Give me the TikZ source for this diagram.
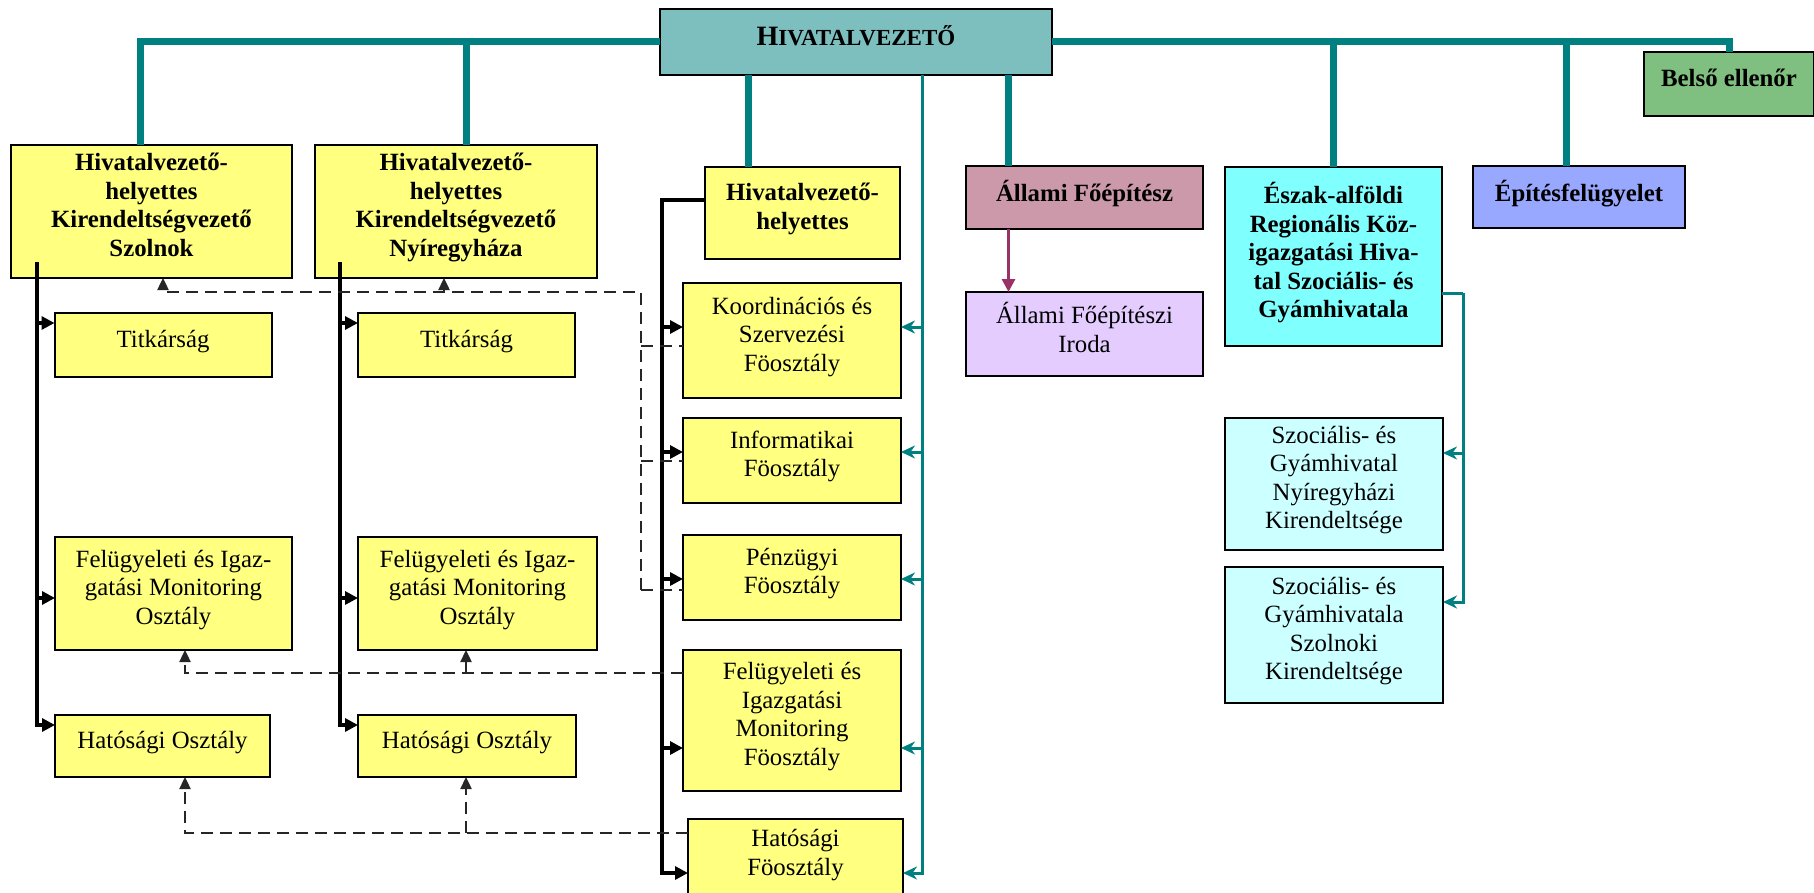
\documentclass[tikz,border=0pt]{standalone}
\usepackage{fontspec}
\setmainfont{Liberation Serif}
\usetikzlibrary{arrows.meta}

\definecolor{tealline}{RGB}{0,128,128}
\definecolor{headteal}{RGB}{125,190,190}
\definecolor{boxyellow}{RGB}{255,255,128}
\definecolor{mauve}{RGB}{204,153,170}
\definecolor{lavender}{RGB}{228,204,255}
\definecolor{brightcyan}{RGB}{128,255,255}
\definecolor{palecyan}{RGB}{204,255,255}
\definecolor{periwinkle}{RGB}{153,168,255}
\definecolor{softgreen}{RGB}{127,191,127}
\definecolor{plum}{RGB}{153,51,102}

\begin{document}
\begin{tikzpicture}[x=1pt,y=1pt,yscale=-1,xscale=1,
	orgbox/.style={draw=black, line width=2pt, anchor=north west, align=center, inner sep=2pt, outer sep=0pt, text depth=13pt, font=\fontsize{24.8}{28.5}\selectfont},
	boldtxt/.style={font=\fontsize{24.8}{28.5}\selectfont\bfseries},
	tealthick/.style={draw=tealline, line width=7pt},
	tealthin/.style={draw=tealline, line width=3pt},
	tealarr/.style={tealthin, -{Stealth[length=14pt,width=13pt]}},
	blackline/.style={draw=black, line width=3.2pt},
	blackarr/.style={blackline, -{Triangle[length=13pt,width=13pt]}},
	dashline/.style={draw=black!85, line width=2.4pt, dash pattern=on 12pt off 7pt},
	dasharr/.style={dashline, -{Triangle[length=12pt,width=11pt]}},
	plumarr/.style={draw=plum, line width=3pt, -{Triangle[length=13pt,width=13pt]}}]
		% Set diagram size to the 1814 x 893 frame
		\useasboundingbox (0,0) rectangle (1814,893);

		% Draw the head box
		\node[orgbox, fill=headteal, minimum width=392, minimum height=66] (hiv) at (660,9) {\bfseries\fontsize{28}{30}\selectfont H\fontsize{23}{30}\selectfont IVATALVEZETŐ};

		% Draw the boxes of the Szolnok branch
		\node[orgbox, boldtxt, fill=boxyellow, minimum width=281, minimum height=133] (szolnok) at (11,145) {Hivatalvezető-\\helyettes\\Kirendeltségvezető\\Szolnok};
		\node[orgbox, fill=boxyellow, minimum width=217, minimum height=64] (titkS) at (54.5,313) {Titkárság};
		\node[orgbox, fill=boxyellow, minimum width=237, minimum height=113] (figS) at (55,537) {Felügyeleti és Igaz-\\gatási Monitoring\\Osztály};
		\node[orgbox, fill=boxyellow, minimum width=215, minimum height=62] (hatS) at (55,715) {Hatósági Osztály};

		% Draw the boxes of the Nyiregyhaza branch
		\node[orgbox, boldtxt, fill=boxyellow, minimum width=282, minimum height=133] (nyir) at (315,145) {Hivatalvezető-\\helyettes\\Kirendeltségvezető\\Nyíregyháza};
		\node[orgbox, fill=boxyellow, minimum width=217, minimum height=64] (titkN) at (358,313) {Titkárság};
		\node[orgbox, fill=boxyellow, minimum width=239, minimum height=113] (figN) at (358,537) {Felügyeleti és Igaz-\\gatási Monitoring\\Osztály};
		\node[orgbox, fill=boxyellow, minimum width=218, minimum height=62] (hatN) at (358,715) {Hatósági Osztály};

		% Draw the deputy and the main departments
		\node[orgbox, boldtxt, fill=boxyellow, minimum width=195, minimum height=92] (hh) at (705,167) {Hivatalvezető-\\helyettes};
		\node[orgbox, fill=boxyellow, minimum width=218, minimum height=115] (koord) at (683,283) {Koordinációs és\\Szervezési\\Föosztály};
		\node[orgbox, fill=boxyellow, minimum width=218, minimum height=85] (inform) at (683,418) {Informatikai\\Föosztály};
		\node[orgbox, fill=boxyellow, minimum width=218, minimum height=85] (penz) at (683,535) {Pénzügyi\\Föosztály};
		\node[orgbox, fill=boxyellow, minimum width=218, minimum height=141] (figm) at (683,650) {Felügyeleti és\\Igazgatási\\Monitoring\\Föosztály};
		\node[orgbox, fill=boxyellow, minimum width=215, minimum height=80] (hatF) at (688,819) {Hatósági\\Föosztály};

		% Draw the boxes on the right
		\node[orgbox, boldtxt, fill=mauve, minimum width=237, minimum height=63] (allami) at (966,166) {Állami Főépítész};
		\node[orgbox, fill=lavender, minimum width=237, minimum height=84] (iroda) at (966,292) {Állami Főépítészi\\Iroda};
		\node[orgbox, boldtxt, fill=brightcyan, minimum width=217, minimum height=179] (eszak) at (1225,167) {Észak-alföldi\\Regionális Köz-\\igazgatási Hiva-\\tal Szociális- és\\Gyámhivatala};
		\node[orgbox, fill=palecyan, minimum width=218, minimum height=132] (szocN) at (1225,418) {Szociális- és\\Gyámhivatal\\Nyíregyházi\\Kirendeltsége};
		\node[orgbox, fill=palecyan, minimum width=218, minimum height=136] (szocS) at (1225,567) {Szociális- és\\Gyámhivatala\\Szolnoki\\Kirendeltsége};
		\node[orgbox, boldtxt, fill=periwinkle, minimum width=212, minimum height=62] (epites) at (1473,166) {Építésfelügyelet};
		\node[orgbox, boldtxt, fill=softgreen, minimum width=170, minimum height=64] (belso) at (1644,52) {Belső ellenőr};

		% The thick teal bus from the head box
		\draw[tealthick] ([xshift=-11pt]szolnok.north) |- (hiv.west);
		\draw[tealthick] ([xshift=10.5pt]nyir.north) -- ([xshift=10.5pt]nyir.north |- hiv.west);
		\draw[tealthick] (hiv.east) -| (belso.north);
		\draw[tealthick] (eszak.north) -- (eszak.north |- hiv.east);
		\draw[tealthick] ([xshift=-13pt]epites.north) -- ([xshift=-13pt]epites.north |- hiv.east);
		\draw[tealthick] ([xshift=-54pt]hh.north) -- ([xshift=-54pt]hh.north |- hiv.south);
		\draw[tealthick] ([xshift=-76pt]allami.north) -- ([xshift=-76pt]allami.north |- hiv.south);

		% The thin teal line down to the departments
		\coordinate (tv) at (922,75);
		\draw[tealarr] (tv) -- (tv |- 0,873) -- (hatF.east |- 0,873);
		\draw[tealarr] (tv |- 0,327) -- (koord.east |- 0,327);
		\draw[tealarr] (tv |- 0,452) -- (inform.east |- 0,452);
		\draw[tealarr] (tv |- 0,579) -- (penz.east |- 0,579);
		\draw[tealarr] (tv |- 0,748) -- (figm.east |- 0,748);

		% The black line of the deputy
		\coordinate (bv) at (662,200);
		\draw[blackarr] (hh.west |- bv) -- (bv) -- (bv |- 0,873) -- (hatF.west |- 0,873);
		\draw[blackarr] (bv |- 0,327) -- (koord.west |- 0,327);
		\draw[blackarr] (bv |- 0,452) -- (inform.west |- 0,452);
		\draw[blackarr] (bv |- 0,579) -- (penz.west |- 0,579);
		\draw[blackarr] (bv |- 0,748) -- (figm.west |- 0,748);

		% The black lines of the two branch heads
		\coordinate (sv) at (37,262);
		\draw[blackarr] (sv) -- (sv |- 0,725) -- (hatS.west |- 0,725);
		\draw[blackarr] (sv |- 0,323) -- (titkS.west |- 0,323);
		\draw[blackarr] (sv |- 0,598) -- (figS.west |- 0,598);
		\coordinate (nv) at (340,262);
		\draw[blackarr] (nv) -- (nv |- 0,725) -- (hatN.west |- 0,725);
		\draw[blackarr] (nv |- 0,323) -- (titkN.west |- 0,323);
		\draw[blackarr] (nv |- 0,598) -- (figN.west |- 0,598);

		% Dashed links from the departments to the branches
		\coordinate (dv) at (641,292);
		\draw[dasharr] (dv |- 0,590) -- (dv) -| (163,0 |- szolnok.south);
		\draw[dasharr] (444,0 |- dv) -- (444,0 |- nyir.south);
		\draw[dashline] (dv |- 0,346) -- (koord.west |- 0,346);
		\draw[dashline] (dv |- 0,461) -- (inform.west |- 0,461);
		\draw[dashline] (dv |- 0,590) -- (penz.west |- 0,590);
		\draw[dasharr] (figm.west |- 0,673) -| (185,0 |- figS.south);
		\draw[dasharr] (466,673) -- (466,0 |- figN.south);
		\draw[dasharr] (hatF.west |- 0,833) -| (185,0 |- hatS.south);
		\draw[dasharr] (466,833) -- (466,0 |- hatN.south);

		% The plum arrow to the office
		\draw[plumarr] ([xshift=-76pt]allami.south) -- ([xshift=-76pt]iroda.north);

		% The teal links of the regional office
		\coordinate (ev) at (1463,293);
		\draw[tealthin] (eszak.east |- ev) -- (ev);
		\draw[tealarr] (ev) -- (ev |- 0,602) -- (szocS.east |- 0,602);
		\draw[tealarr] (ev |- 0,453) -- (szocN.east |- 0,453);
\end{tikzpicture}
\end{document}
